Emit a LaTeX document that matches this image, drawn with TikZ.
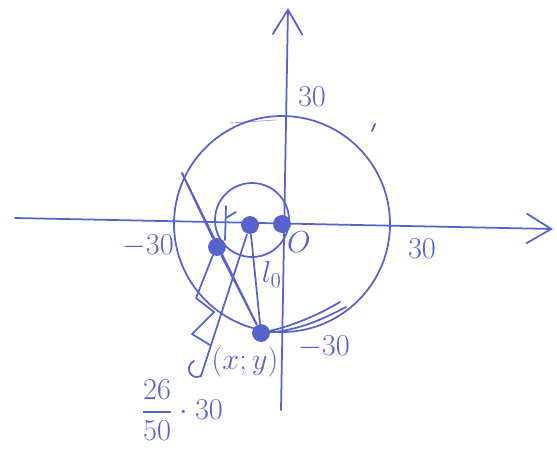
\documentclass[tikz,border=0pt]{standalone}
\usepackage{amsmath}
\usetikzlibrary{arrows.meta}
\definecolor{tinte}{RGB}{88,98,205}
\tikzset{
    punkt/.style={circle, fill=tinte, inner sep=3.6pt},
    achse/.style={-{Straight Barb[length=5mm, width=6mm]}},
    schrift/.style={text=tinte, font=\LARGE}
}
\begin{document}
\begin{tikzpicture}[x=0.02cm, y=-0.02cm, draw=tinte, line width=1pt, line cap=round]
    \useasboundingbox (0,0) rectangle (557,453);
    \path node[punkt] (O) at (282,224) {}
        node[punkt] (M) at (250,225) {}
        node[punkt] (P) at (217,247) {}
        node[punkt] (X) at (261,333) {}
        coordinate (xl) at (15,218)
        coordinate (xr) at (553,229)
        coordinate (yb) at (281,410)
        coordinate (yt) at (288,8)
        coordinate (A) at (182,173)
        coordinate (D) at (201,376);
    % Achsen
    \draw[achse] (xl) -- (xr);
    \draw[achse] (yb) -- (yt);
    % Kreise
    \draw (O.center) circle [radius=108];
    \draw (252,220) circle [radius=37];
    % Strecken
    \draw (M) -- node[schrift, right, pos=0.45] {$l_0$} (X);
    \draw (A) -- (P) -- (X);
    \draw (A) -- (X);
    \draw (M) -- (D);
    \draw (D) .. controls (190,381) and (184,366) .. (194,361);
    % Beschriftung
    \node[schrift] (t1) at (312,97) {$30$};
    \node[schrift] (t2) at (148,246) {$-30$};
    \node[schrift] (t3) at (299,242) {$O$};
    \node[schrift] (t4) at (422,249) {$30$};
    \node[schrift] (t5) at (324,347) {$-30$};
    \node[schrift] (t6) at (245,362) {$(x;y)$};
    \node[schrift] (t7) at (182,410) {$\dfrac{26}{50}\cdot 30$};
    % Kritzeleien
    \draw (226,206) -- (225,240);
    \draw (226,218) -- (236,212);
    \draw (213,255) -- (196,298) -- (214,312) -- (192,334) -- (210,345);
    \draw (X) .. controls (300,330) and (325,318) .. (346,307);
    \draw (X) .. controls (295,325) and (320,314) .. (340,302);
    \draw[line width=0.5pt, opacity=0.5] (230,123) -- (276,120);
    \draw (372,131) -- (375,124);
\end{tikzpicture}
\end{document}
